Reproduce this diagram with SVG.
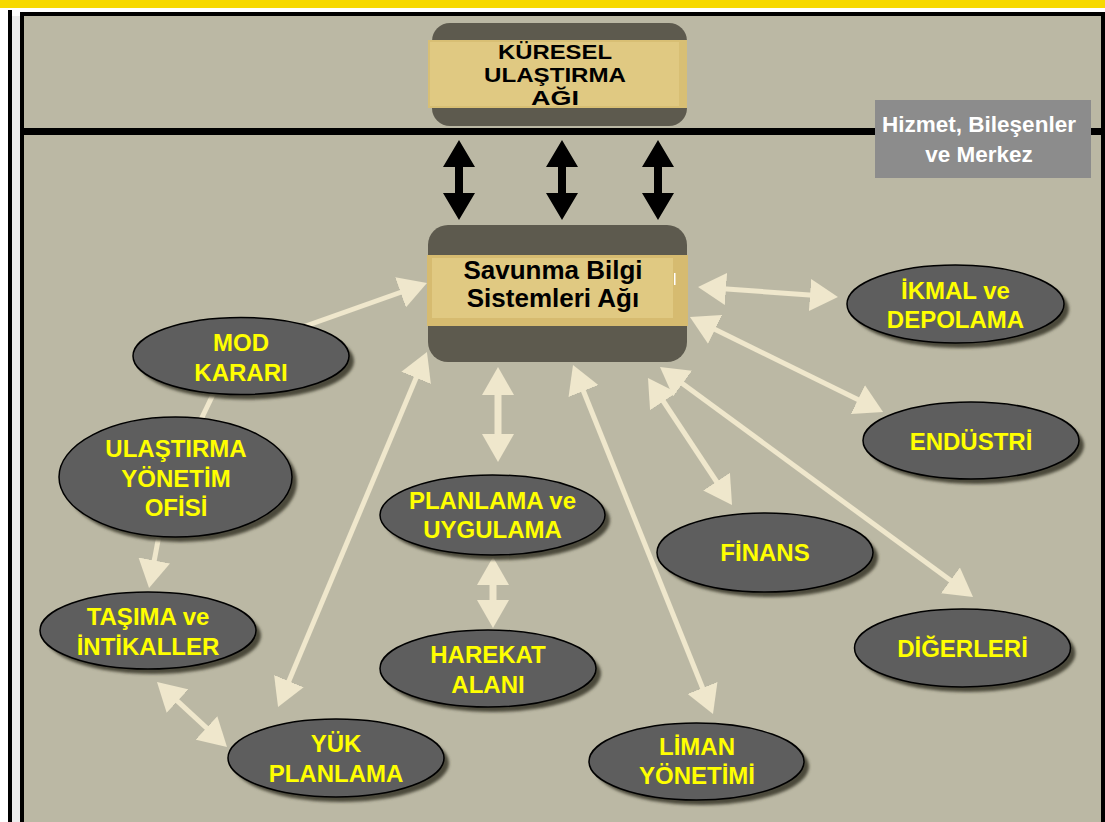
<svg xmlns="http://www.w3.org/2000/svg" width="1105" height="822" viewBox="0 0 1105 822">
  <style>
    .node-shadow { fill: #4b493a; filter: url(#soft); }
    .node-shape { fill: #5e5e5e; stroke: #000; stroke-width: 1.5; }
    .node-label { font-family: "Liberation Sans", Arial, sans-serif; font-weight: bold; font-size: 24px; fill: #ffff00; text-anchor: middle; }
    .box-label { font-family: "Liberation Sans", Arial, sans-serif; font-weight: bold; fill: #000; text-anchor: middle; }
    .link { stroke: #efe7cc; fill: none; marker-start: url(#ah); marker-end: url(#ah); }
    .thin { stroke-width: 5; }
    .thick { stroke-width: 7; }
  </style>
  <defs>
    <filter id="soft" x="-10%" y="-10%" width="120%" height="120%">
      <feGaussianBlur stdDeviation="1.6"/>
    </filter>
    <filter id="soft-edge" x="-20%" y="-20%" width="140%" height="140%">
      <feGaussianBlur stdDeviation="0.6"/>
    </filter>
    <marker id="ah" markerUnits="userSpaceOnUse" markerWidth="28" markerHeight="32" viewBox="0 0 28 32" refX="10" refY="16" orient="auto-start-reverse">
      <path d="M0,0 L28,16 L0,32 Z" fill="#efe7cc"/>
    </marker>
    <path id="bidir" d="M0,0 L16,27 L4,27 L4,53 L16,53 L0,80 L-16,53 L-4,53 L-4,27 L-16,27 Z" fill="#000"/>
  </defs>

  <!-- page and frame -->
  <rect x="0" y="0" width="1105" height="822" fill="#ffffff"/>
  <rect x="0" y="0" width="1105" height="8" fill="#f7d900"/>
  <rect x="8" y="10" width="4" height="812" fill="#000"/>
  <rect x="12" y="16" width="8" height="806" fill="#ececec"/>
  <rect x="22" y="14" width="1081" height="830" fill="#bbb8a4" stroke="#000" stroke-width="4"/>

  <!-- divider between the global network and the service tier -->
  <rect x="22" y="128" width="1081" height="7" fill="#000"/>

  <!-- global transport network -->
  <g id="kuresel">
    <rect x="432" y="23" width="255" height="103" rx="18" fill="#5d5a4e"/>
    <rect x="428" y="40" width="259" height="68" fill="#d8bf74"/>
    <rect x="430" y="42" width="249" height="64" fill="#e0c982"/>
    <text class="box-label" font-size="20" x="555" y="59" textLength="114" lengthAdjust="spacingAndGlyphs">KÜRESEL</text>
    <text class="box-label" font-size="20" x="555" y="82" textLength="142" lengthAdjust="spacingAndGlyphs">ULAŞTIRMA</text>
    <text class="box-label" font-size="20" x="555" y="105" textLength="48" lengthAdjust="spacingAndGlyphs">AĞI</text>
  </g>

  <!-- legend box -->
  <g id="legend">
    <rect x="875" y="100" width="216" height="78" fill="#8c8c8c"/>
    <text font-family="Liberation Sans, Arial, sans-serif" font-weight="bold" font-size="22.5" fill="#ffffff" text-anchor="middle" x="979" y="132">Hizmet, Bileşenler</text>
    <text font-family="Liberation Sans, Arial, sans-serif" font-weight="bold" font-size="22.5" fill="#ffffff" text-anchor="middle" x="979" y="162">ve Merkez</text>
  </g>

  <!-- defence information systems network -->
  <g id="savunma">
    <rect x="428" y="225" width="259" height="137" rx="20" fill="#5d5a4e"/>
    <rect x="427" y="255" width="261" height="71" fill="#d6bb70"/>
    <rect x="432" y="258" width="241" height="60" fill="#e0c982"/>
    <rect x="674" y="273" width="1.5" height="12" fill="#ffffff"/>
    <text class="box-label" font-size="26" x="553" y="279">Savunma Bilgi</text>
    <text class="box-label" font-size="26" x="553" y="307">Sistemleri Ağı</text>
  </g>

  <!-- connectors -->
  <g id="connectors">
    <!-- links between the two networks -->
    <g filter="url(#soft-edge)">
      <use href="#bidir" transform="translate(459,140)"/>
      <use href="#bidir" transform="translate(562,140)"/>
      <use href="#bidir" transform="translate(658,140)"/>
    </g>
    <g filter="url(#soft-edge)">
      <line x1="220" y1="380" x2="195" y2="432" stroke="#efe7cc" stroke-width="5"/>
      <line class="link thin" style="marker-start:none" x1="300" y1="328" x2="410" y2="289"/>
      <line class="link thin" style="marker-start:none" x1="160" y1="530" x2="152.4" y2="570.3"/>
      <line class="link thin" x1="170.2" y1="694.3" x2="213.8" y2="734.7"/>
      <line class="link thin" x1="420" y1="368.6" x2="285" y2="690.4"/>
      <line class="link thick" x1="498" y1="385" x2="498" y2="444"/>
      <line class="link thick" x1="493" y1="575" x2="493" y2="610"/>
      <line class="link thin" x1="579.7" y1="381.7" x2="706.3" y2="697.3"/>
      <line class="link thin" x1="657.9" y1="393" x2="722.1" y2="490"/>
      <line class="link thin" x1="674.5" y1="377.7" x2="958.5" y2="586.3"/>
      <line class="link thin" x1="706.1" y1="325" x2="866.9" y2="404"/>
      <line class="link thin" x1="716" y1="288.3" x2="820" y2="295.7"/>
    </g>
  </g>

  <!-- service nodes -->
  <g id="mod-karari">
    <ellipse class="node-shadow" cx="246" cy="361" rx="108" ry="38.5"/>
    <ellipse class="node-shape" cx="241" cy="356" rx="108" ry="38.5"/>
    <text class="node-label" x="241" y="351">MOD</text>
    <text class="node-label" x="241" y="381">KARARI</text>
  </g>
  <g id="ulastirma-yonetim">
    <ellipse class="node-shadow" cx="180.5" cy="482" rx="116.5" ry="60"/>
    <ellipse class="node-shape" cx="175.5" cy="477" rx="116.5" ry="60"/>
    <text class="node-label" x="176" y="457">ULAŞTIRMA</text>
    <text class="node-label" x="176" y="487">YÖNETİM</text>
    <text class="node-label" x="176" y="516">OFİSİ</text>
  </g>
  <g id="tasima">
    <ellipse class="node-shadow" cx="153" cy="635.5" rx="108" ry="38.5"/>
    <ellipse class="node-shape" cx="148" cy="630.5" rx="108" ry="38.5"/>
    <text class="node-label" x="148" y="625">TAŞIMA ve</text>
    <text class="node-label" x="148" y="655">İNTİKALLER</text>
  </g>
  <g id="yuk-planlama">
    <ellipse class="node-shadow" cx="341" cy="763" rx="108" ry="39"/>
    <ellipse class="node-shape" cx="336" cy="758" rx="108" ry="39"/>
    <text class="node-label" x="336" y="752">YÜK</text>
    <text class="node-label" x="336" y="782">PLANLAMA</text>
  </g>
  <g id="planlama-uygulama">
    <ellipse class="node-shadow" cx="497.5" cy="520" rx="112.5" ry="40"/>
    <ellipse class="node-shape" cx="492.5" cy="515" rx="112.5" ry="40"/>
    <text class="node-label" x="492.5" y="509">PLANLAMA ve</text>
    <text class="node-label" x="492.5" y="538">UYGULAMA</text>
  </g>
  <g id="harekat-alani">
    <ellipse class="node-shadow" cx="493" cy="673.5" rx="108" ry="38.5"/>
    <ellipse class="node-shape" cx="488" cy="668.5" rx="108" ry="38.5"/>
    <text class="node-label" x="488" y="663">HAREKAT</text>
    <text class="node-label" x="488" y="693">ALANI</text>
  </g>
  <g id="liman-yonetimi">
    <ellipse class="node-shadow" cx="701.5" cy="766.5" rx="107.5" ry="38.5"/>
    <ellipse class="node-shape" cx="696.5" cy="761.5" rx="107.5" ry="38.5"/>
    <text class="node-label" x="697" y="755">LİMAN</text>
    <text class="node-label" x="697" y="784">YÖNETİMİ</text>
  </g>
  <g id="finans">
    <ellipse class="node-shadow" cx="770" cy="557.5" rx="108" ry="39.5"/>
    <ellipse class="node-shape" cx="765" cy="552.5" rx="108" ry="39.5"/>
    <text class="node-label" x="765" y="561">FİNANS</text>
  </g>
  <g id="ikmal-depolama">
    <ellipse class="node-shadow" cx="960.5" cy="309" rx="108.5" ry="39"/>
    <ellipse class="node-shape" cx="955.5" cy="304" rx="108.5" ry="39"/>
    <text class="node-label" x="955.5" y="299">İKMAL ve</text>
    <text class="node-label" x="955.5" y="328">DEPOLAMA</text>
  </g>
  <g id="endustri">
    <ellipse class="node-shadow" cx="976" cy="445.5" rx="108" ry="38.5"/>
    <ellipse class="node-shape" cx="971" cy="440.5" rx="108" ry="38.5"/>
    <text class="node-label" x="971" y="450">ENDÜSTRİ</text>
  </g>
  <g id="digerleri">
    <ellipse class="node-shadow" cx="967.5" cy="653" rx="108" ry="39"/>
    <ellipse class="node-shape" cx="962.5" cy="648" rx="108" ry="39"/>
    <text class="node-label" x="962.5" y="657">DİĞERLERİ</text>
  </g>
</svg>
